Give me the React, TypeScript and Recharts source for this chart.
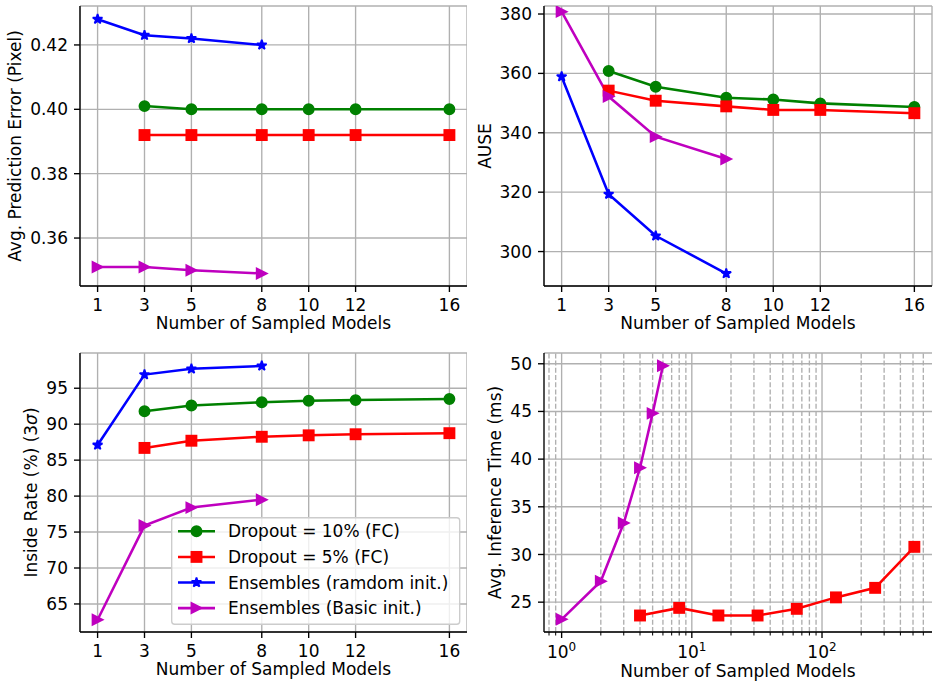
import React from 'react';
import { LineChart, Line, XAxis, YAxis, CartesianGrid, ReferenceLine, Legend } from 'recharts';

// ---------------- data ----------------
const sampleTicks = [1, 3, 5, 8, 10, 12, 16];
const dropoutCounts = [3, 5, 8, 10, 12, 16];
const ensembleCounts = [1, 3, 5, 8];

const errDropout10 = [0.401, 0.4, 0.4, 0.4, 0.4, 0.4];
const errDropout5 = [0.392, 0.392, 0.392, 0.392, 0.392, 0.392];
const errEnsRandom = [0.428, 0.423, 0.422, 0.42];
const errEnsBasic = [0.351, 0.351, 0.35, 0.349];

const auseDropout10 = [360.8, 355.5, 351.8, 351.2, 349.9, 348.7];
const auseDropout5 = [354.2, 350.8, 348.9, 347.7, 347.7, 346.6];
const auseEnsRandom = [358.9, 319.3, 305.3, 292.6];
const auseEnsBasic = [380.8, 352.2, 338.7, 331.2];

const inDropout10 = [91.8, 92.6, 93.05, 93.25, 93.35, 93.5];
const inDropout5 = [86.7, 87.7, 88.25, 88.45, 88.6, 88.75];
const inEnsRandom = [87.1, 96.9, 97.7, 98.1];
const inEnsBasic = [62.8, 75.9, 78.4, 79.5];

const timeDropoutCounts = [4, 8, 16, 32, 64, 128, 256, 512];
const timeDropout5 = [23.6, 24.4, 23.6, 23.6, 24.3, 25.5, 26.5, 30.8];
const timeEnsCounts = [1, 2, 3, 4, 5, 6];
const timeEnsBasic = [23.2, 27.2, 33.3, 39.1, 44.8, 49.8];

const seriesNames = [
  'Dropout = 10% (FC)',
  'Dropout = 5% (FC)',
  'Ensembles (ramdom init.)',
  'Ensembles (Basic init.)',
];

const errTicks = [0.36, 0.38, 0.4, 0.42];
const auseTicks = [300, 320, 340, 360, 380];
const inTicks = [65, 70, 75, 80, 85, 90, 95];
const timeTicks = [25, 30, 35, 40, 45, 50];
const logMajorTicks = [1, 10, 100];
const logMinorTicks = [0.8, 0.9, 2, 3, 4, 5, 6, 7, 8, 9, 20, 30, 40, 50, 60, 70, 80, 90, 200, 300, 400, 500, 600];

// ---------------- style ----------------
const FONT = '"DejaVu Sans", sans-serif';
const FS = 17;
const GRID = '#b0b0b0';
const GW = 1.36;
const LW = 2.55;
const MS = 10.2;
const MEW = 1.7;
const C_D10 = '#008000';
const C_D5 = '#ff0000';
const C_ER = '#0000ff';
const C_EB = '#bf00bf';

type Shape = 'circle' | 'square' | 'star' | 'tri';

function starPoints(cx: number, cy: number, R: number, r: number) {
  const pts: string[] = [];
  for (let i = 0; i < 10; i++) {
    const a = -Math.PI / 2 + (i * Math.PI) / 5;
    const rad = i % 2 === 0 ? R : r;
    pts.push(`${cx + rad * Math.cos(a)},${cy + rad * Math.sin(a)}`);
  }
  return pts.join(' ');
}

function Marker({ cx, cy, shape, color }: { cx: number; cy: number; shape: Shape; color: string }) {
  const h = MS / 2;
  const common = { fill: color, stroke: color, strokeWidth: MEW };
  if (shape === 'circle') return <circle cx={cx} cy={cy} r={h} {...common} />;
  if (shape === 'square')
    return <rect x={cx - h} y={cy - h} width={MS} height={MS} strokeLinejoin="miter" {...common} />;
  if (shape === 'star')
    return <polygon points={starPoints(cx, cy, h, h * 0.381966)} strokeLinejoin="bevel" {...common} />;
  return (
    <polygon
      points={`${cx + h},${cy} ${cx - h},${cy - h} ${cx - h},${cy + h}`}
      strokeLinejoin="miter"
      {...common}
    />
  );
}

const makeDot = (shape: Shape, color: string) => (p: any) => {
  const k = `dot-${p.index}`;
  if (p.cx == null || p.cy == null || p.value == null) return <g key={k} />;
  return (
    <g key={k}>
      <Marker cx={p.cx} cy={p.cy} shape={shape} color={color} />
    </g>
  );
};

type Series = { xs: number[]; ys: number[]; shape: Shape; color: string; name: string };

const LogTick = (props: any) => {
  const { x, y, payload } = props;
  const v = payload.value;
  const lg = Math.log10(v);
  const exp = Math.round(lg);
  const major = Math.abs(lg - exp) < 1e-9;
  return (
    <g>
      <line x1={x} x2={x} y1={y} y2={y + (major ? 6 : 3.4)} stroke="#000" strokeWidth={major ? GW : 1.02} />
      {major && (
        <text x={x} y={y + 26} textAnchor="middle" fontSize={FS} fontFamily={FONT} fill="#000">
          10
          <tspan dy={-7.3} fontSize={12}>
            {exp}
          </tspan>
        </text>
      )}
    </g>
  );
};

const legendShapes: Shape[] = ['circle', 'square', 'star', 'tri'];
const legendColors = [C_D10, C_D5, C_ER, C_EB];

const LegendBox = () => {
  const rows = [14.3, 39.9, 65.5, 91.1];
  return (
    <svg width={290} height={109} style={{ display: 'block', overflow: 'visible' }}>
      <rect x={0.7} y={0.7} width={288} height={106.6} rx={3} ry={3} fill="#fff" fillOpacity={0.8} stroke="#cccccc" strokeWidth={GW} />
      {seriesNames.map((n, i) => (
        <g key={n}>
          <line x1={7} x2={44} y1={rows[i]} y2={rows[i]} stroke={legendColors[i]} strokeWidth={LW} />
          <Marker cx={25.5} cy={rows[i]} shape={legendShapes[i]} color={legendColors[i]} />
          <text x={57} y={rows[i] + 6} fontSize={FS} fontFamily={FONT} fill="#000">
            {n}
          </text>
        </g>
      ))}
    </svg>
  );
};

type PanelProps = {
  left: number;
  top: number;
  width: number;
  height: number;
  marginTop: number;
  marginRight: number;
  yAxisWidth: number;
  xDomain: [number, number];
  log?: boolean;
  yDomain: [number, number];
  yTicks: number[];
  yFmt?: (v: number) => string;
  yLabel: React.ReactNode;
  yLabelOffset: number;
  xLabelOffset: number;
  series: Series[];
  legend?: boolean;
};

function Panel(p: PanelProps) {
  const axisStroke = { stroke: '#000', strokeWidth: GW };
  const tickStyle = { fill: '#000', fontSize: FS, fontFamily: FONT };
  const xTitle = {
    content: (lp: any) => {
      const vb = lp.viewBox || {};
      return (
        <text x={vb.x + vb.width / 2} y={vb.y + p.xLabelOffset} textAnchor="middle" fontSize={FS} fontFamily={FONT} fill="#000">
          Number of Sampled Models
        </text>
      );
    },
  };
  const yTitle = {
    content: (lp: any) => {
      const vb = lp.viewBox || {};
      const cx = vb.x + vb.width - p.yLabelOffset;
      const cy = vb.y + vb.height / 2;
      return (
        <text x={cx} y={cy} transform={`rotate(-90 ${cx} ${cy})`} textAnchor="middle" fontSize={FS} fontFamily={FONT} fill="#000">
          {p.yLabel}
        </text>
      );
    },
  };
  return (
    <div style={{ position: 'absolute', left: p.left, top: p.top, width: p.width, height: p.height }}>
      <LineChart width={p.width} height={p.height} margin={{ top: p.marginTop, right: p.marginRight, bottom: 0, left: 0 }}>
        <CartesianGrid stroke={GRID} strokeWidth={GW} vertical={!p.log} />
        {p.log &&
          logMinorTicks.map((v) => (
            <ReferenceLine key={`mn${v}`} x={v} stroke={GRID} strokeWidth={GW} strokeDasharray="5 2.2" />
          ))}
        {p.log &&
          logMajorTicks.map((v) => <ReferenceLine key={`mj${v}`} x={v} stroke={GRID} strokeWidth={GW} />)}
        {p.log ? (
          <XAxis
            type="number"
            dataKey="x"
            scale="log"
            domain={p.xDomain}
            allowDataOverflow
            ticks={[...logMinorTicks, ...logMajorTicks].sort((a, b) => a - b)}
            interval={0}
            height={54}
            tickSize={0}
            tickMargin={0}
            tickLine={false}
            axisLine={axisStroke}
            tick={<LogTick />}
            label={xTitle}
          />
        ) : (
          <XAxis
            type="number"
            dataKey="x"
            domain={p.xDomain}
            allowDataOverflow
            ticks={sampleTicks}
            interval={0}
            height={54}
            tickSize={6}
            tickMargin={6.5}
            tickLine={axisStroke}
            axisLine={axisStroke}
            tick={tickStyle}
            label={xTitle}
          />
        )}
        <XAxis
          xAxisId="top"
          orientation="top"
          type="number"
          domain={[0, 1]}
          allowDataOverflow
          height={0}
          tick={false}
          tickLine={false}
          axisLine={axisStroke}
        />
        <YAxis
          type="number"
          domain={p.yDomain}
          allowDataOverflow
          ticks={p.yTicks}
          interval={0}
          width={p.yAxisWidth}
          tickSize={6}
          tickMargin={6}
          tickLine={axisStroke}
          axisLine={axisStroke}
          tick={tickStyle}
          tickFormatter={p.yFmt}
          label={yTitle}
        />
        <YAxis
          yAxisId="right"
          orientation="right"
          type="number"
          domain={[0, 1]}
          allowDataOverflow
          width={0}
          tick={false}
          tickLine={false}
          axisLine={axisStroke}
        />
        {p.series.map((s) => (
          <Line
            key={s.name}
            name={s.name}
            data={s.xs.map((x, i) => ({ x, y: s.ys[i] }))}
            dataKey="y"
            type="linear"
            stroke={s.color}
            strokeWidth={LW}
            dot={makeDot(s.shape, s.color)}
            activeDot={false}
            isAnimationActive={false}
          />
        ))}
        {p.legend && (
          <Legend
            layout="vertical"
            align="center"
            verticalAlign="middle"
            wrapperStyle={{ position: 'absolute', left: 171, top: 177, width: 290, height: 109, margin: 0, padding: 0 }}
            content={() => <LegendBox />}
          />
        )}
      </LineChart>
    </div>
  );
}

const lin: [number, number] = [0.25, 16.75];

export default function App() {
  const s4 = (a: number[], b: number[], c: number[], d: number[]): Series[] => [
    { xs: dropoutCounts, ys: a, shape: 'circle', color: C_D10, name: seriesNames[0] },
    { xs: dropoutCounts, ys: b, shape: 'square', color: C_D5, name: seriesNames[1] },
    { xs: ensembleCounts, ys: c, shape: 'star', color: C_ER, name: seriesNames[2] },
    { xs: ensembleCounts, ys: d, shape: 'tri', color: C_EB, name: seriesNames[3] },
  ];
  return (
    <div style={{ position: 'absolute', left: 0, top: 0, width: 933, height: 686, background: '#fff', overflow: 'hidden' }}>
      <Panel
        left={0}
        top={0}
        width={467}
        height={340}
        marginTop={6}
        marginRight={0}
        yAxisWidth={80}
        xDomain={lin}
        yDomain={[0.3451, 0.4321]}
        yTicks={errTicks}
        yFmt={(v) => v.toFixed(2)}
        yLabel="Avg. Prediction Error (Pixel)"
        yLabelOffset={59.5}
        xLabelOffset={42.5}
        series={s4(errDropout10, errDropout5, errEnsRandom, errEnsBasic)}
      />
      <Panel
        left={466}
        top={0}
        width={467}
        height={340}
        marginTop={6}
        marginRight={1}
        yAxisWidth={78}
        xDomain={lin}
        yDomain={[288.4, 382.7]}
        yTicks={auseTicks}
        yLabel="AUSE"
        yLabelOffset={53}
        xLabelOffset={42.5}
        series={s4(auseDropout10, auseDropout5, auseEnsRandom, auseEnsBasic)}
      />
      <Panel
        left={0}
        top={340}
        width={467}
        height={346}
        marginTop={13}
        marginRight={0}
        yAxisWidth={80}
        xDomain={lin}
        yDomain={[61.1, 99.9]}
        yTicks={inTicks}
        yLabel={
          <>
            Inside Rate (%) (3<tspan fontStyle="italic">σ</tspan>)
          </>
        }
        yLabelOffset={43}
        xLabelOffset={43}
        series={s4(inDropout10, inDropout5, inEnsRandom, inEnsBasic)}
        legend
      />
      <Panel
        left={466}
        top={340}
        width={467}
        height={346}
        marginTop={13}
        marginRight={1}
        yAxisWidth={78}
        xDomain={[0.7322, 699.5]}
        log
        yDomain={[21.87, 51.13]}
        yTicks={timeTicks}
        yLabel="Avg. Inference Time (ms)"
        yLabelOffset={43}
        xLabelOffset={44.5}
        series={[
          { xs: timeDropoutCounts, ys: timeDropout5, shape: 'square', color: C_D5, name: seriesNames[1] },
          { xs: timeEnsCounts, ys: timeEnsBasic, shape: 'tri', color: C_EB, name: seriesNames[3] },
        ]}
      />
    </div>
  );
}
